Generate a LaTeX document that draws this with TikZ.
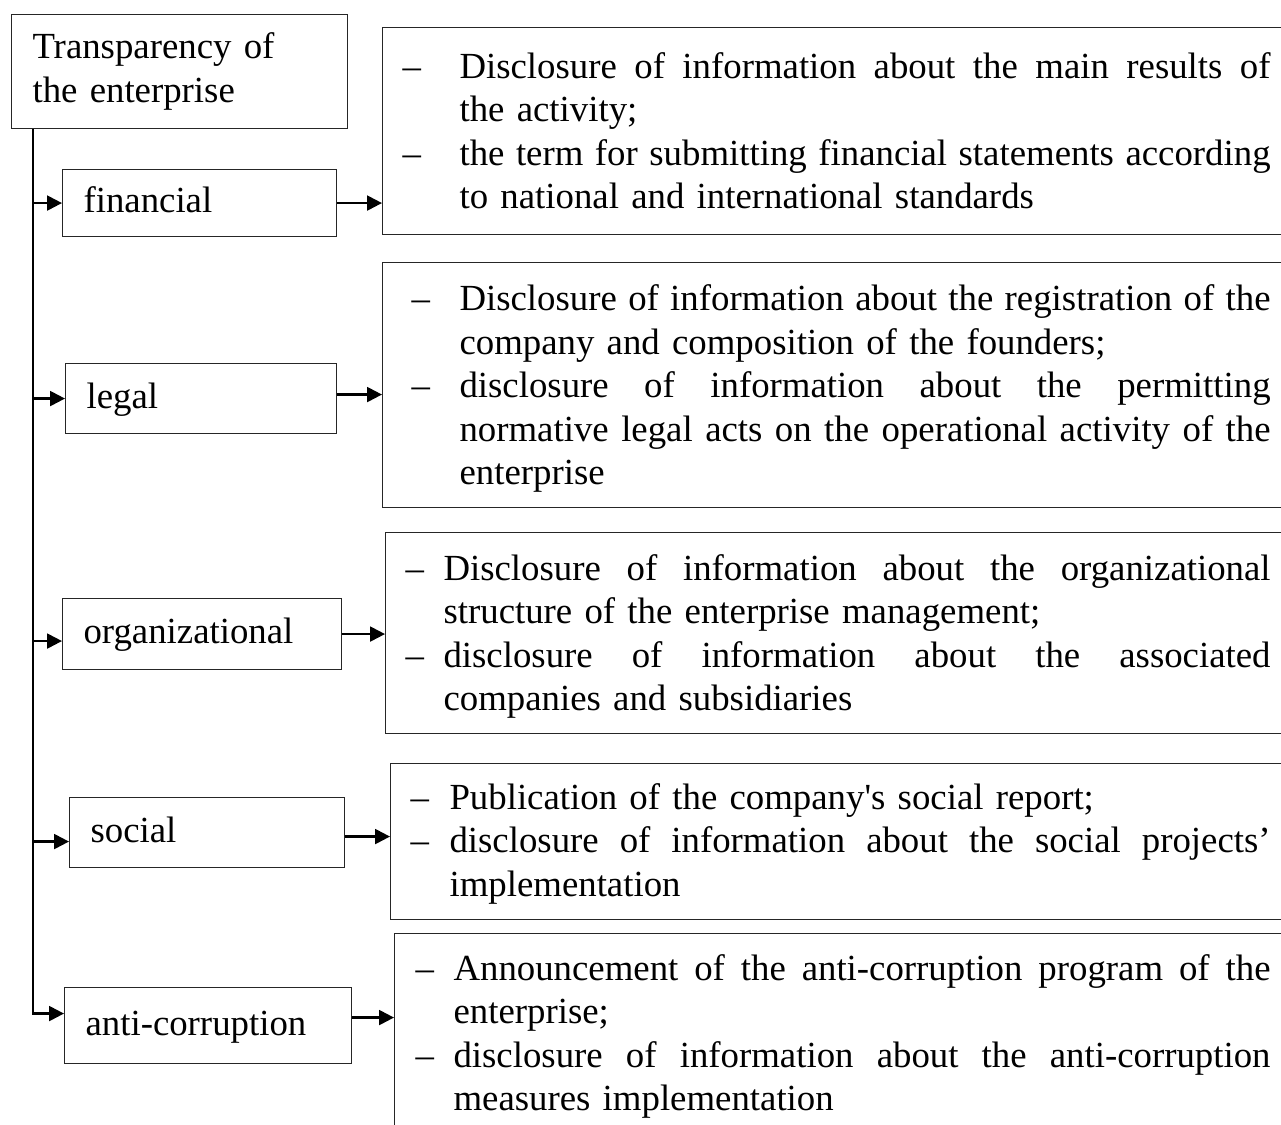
\documentclass[tikz,border=0pt]{standalone}
\usepackage{fontspec}
\setmainfont{Liberation Serif}
\usetikzlibrary{arrows.meta}

% hanging indent of the text after a list dash
\newlength\dashind
% a line spread to the full width: every interword space stretches equally
\newcommand\fullline[1]{\hbox to \dimexpr\hsize-\dashind\relax{\spaceskip=.25em plus 1fil minus .06em\relax #1}}
% list lines: dash + justified text, dash + ragged text,
% continuation justified, continuation ragged
\newcommand\dashjust[1]{\noindent\makebox[\dashind][l]{–}\fullline{#1}\par}
\newcommand\dashleft[1]{\noindent\makebox[\dashind][l]{–}#1\par}
\newcommand\contjust[1]{\noindent\hspace*{\dashind}\fullline{#1}\par}
\newcommand\contleft[1]{\noindent\hspace*{\dashind}#1\par}

\begin{document}
\begin{tikzpicture}[x=1pt,y=-1pt,
  every node/.style={font=\fontsize{36.8}{43.5}\selectfont},
  box/.style={draw=black!85, line width=1.1pt, inner ysep=0pt, align=left,
    anchor=north west},
  lbox/.style={box, inner xsep=21pt, text height=27pt, text depth=8pt},
  conn/.style={line width=2.2pt, -{Triangle[length=15pt,width=15pt]}}]

\useasboundingbox (0,0) rectangle (1281,1124);
\clip (0,0) rectangle (1281,1124);

% root and category boxes
\node[lbox, minimum width=336pt, minimum height=114pt, text width=294pt,
  text height=, text depth=] (title) at (11,14)
  {Transparency of\\the enterprise};
\node[lbox, minimum width=274pt, minimum height=67pt, text width=232pt] (fin) at (62,169) {financial};
\node[lbox, minimum width=271pt, minimum height=70pt, text width=229pt] (legal) at (65,363) {legal};
\node[lbox, minimum width=279pt, minimum height=71pt, text width=237pt] (org) at (62,598) {organizational};
\node[lbox, minimum width=275pt, minimum height=70pt, text width=233pt] (soc) at (69,797) {social};
\node[lbox, minimum width=287pt, minimum height=76pt, text width=245pt] (anti) at (64,987) {anti-corruption};

% description boxes (they run past the right edge)
\node[box, inner xsep=20pt, minimum height=207pt, text width=868pt,
  text height=25pt] (r1) at (382,27) {%
  \setlength\dashind{57pt}%
  \dashjust{Disclosure of information about the main results of}
  \contleft{the activity;}
  \dashjust{the term for submitting financial statements according}
  \contleft{to national and international standards}};

\node[box, inner xsep=29pt, minimum height=245pt, text width=859pt,
  text height=33pt] (r2) at (382,262) {%
  \setlength\dashind{48pt}%
  \dashjust{Disclosure of information about the registration of the}
  \contleft{company and composition of the founders;}
  \dashjust{disclosure of information about the permitting}
  \contjust{normative legal acts on the operational activity of the}
  \contleft{enterprise}};

\node[box, inner xsep=20pt, minimum height=201pt, text width=865pt,
  text height=33pt] (r3) at (385,532) {%
  \setlength\dashind{38pt}%
  \dashjust{Disclosure of information about the organizational}
  \contleft{structure of the enterprise management;}
  \dashjust{disclosure of information about the associated}
  \contleft{companies and subsidiaries}};

\node[box, inner xsep=20pt, minimum height=156pt, text width=860pt,
  text height=30pt] (r4) at (390,763) {%
  \setlength\dashind{39pt}%
  \dashleft{Publication of the company\textquotesingle s social report;}
  \dashjust{disclosure of information about the social projects’}
  \contleft{implementation}};

\node[box, inner xsep=21pt, minimum height=203pt, text width=855pt,
  text height=29pt] (r5) at (394,933) {%
  \setlength\dashind{38pt}%
  \dashjust{Announcement of the anti-corruption program of the}
  \contleft{enterprise;}
  \dashjust{disclosure of information about the anti-corruption}
  \contleft{measures implementation}};

% connector end points on the category boxes
\coordinate (t0) at ([xshift=22pt]title.south west);
\coordinate (orgin) at ([yshift=-7pt]org.west);
\coordinate (socin) at ([yshift=-9pt]soc.west);
\coordinate (antiin) at ([yshift=12pt]anti.west);
\coordinate (legalout) at ([yshift=4pt]legal.east);
\coordinate (socout) at ([yshift=-4pt]soc.east);
\coordinate (antiout) at ([yshift=8pt]anti.east);

% trunk from the root down to the last category
\draw[conn] (t0) |- (antiin);

% branches to the categories
\draw[conn] (t0 |- fin.west) -- (fin.west);
\draw[conn] (t0 |- legal.west) -- (legal.west);
\draw[conn] (t0 |- orgin) -- (orgin);
\draw[conn] (t0 |- socin) -- (socin);

% categories to their descriptions
\draw[conn] (fin.east) -- (fin.east -| r1.west);
\draw[conn] (legalout) -- (legalout -| r2.west);
\draw[conn] (org.east) -- (org.east -| r3.west);
\draw[conn] (socout) -- (socout -| r4.west);
\draw[conn] (antiout) -- (antiout -| r5.west);
\end{tikzpicture}
\end{document}
